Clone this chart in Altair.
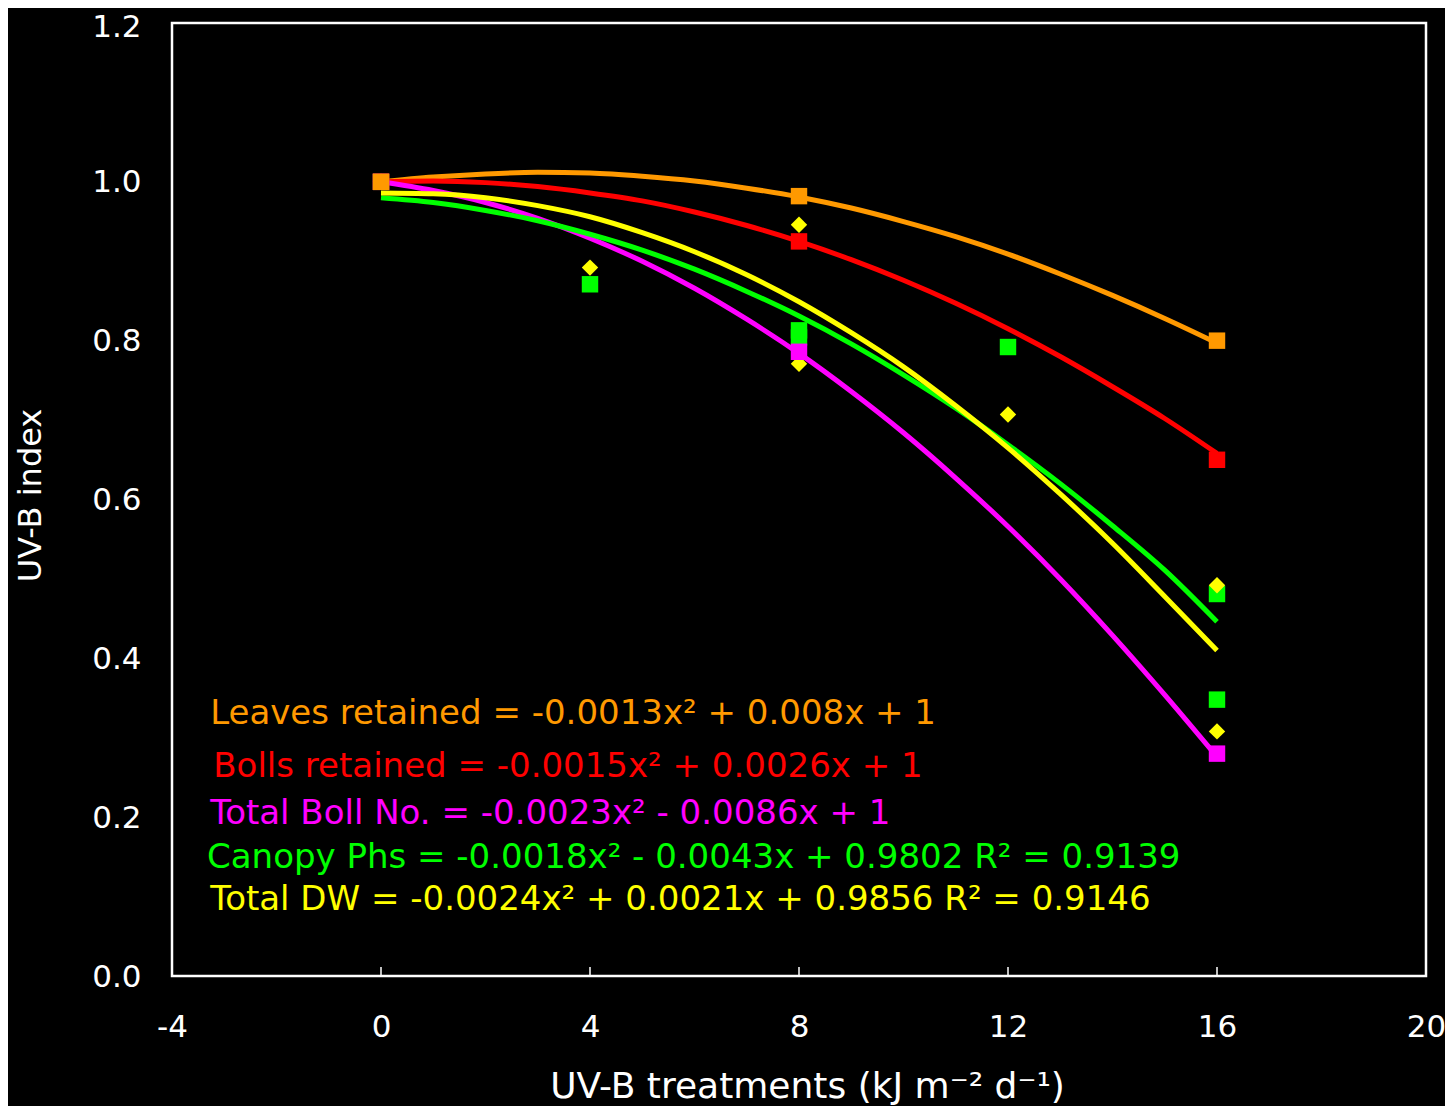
import altair as alt
import pandas as pd

# ---- fitted curves (x = 0..16) ----
fit_x = list(range(17))
leaves_fit = [1.000, 1.006, 1.010, 1.012, 1.011, 1.007, 1.001, 0.992, 0.981, 0.967, 0.950,
              0.931, 0.909, 0.884, 0.857, 0.828, 0.797]
bolls_fit = [1.000, 1.001, 0.999, 0.994, 0.986, 0.976, 0.962, 0.945, 0.925, 0.902, 0.876,
             0.847, 0.815, 0.780, 0.742, 0.702, 0.658]
bollno_fit = [1.000, 0.989, 0.974, 0.954, 0.929, 0.900, 0.866, 0.827, 0.784, 0.736, 0.684,
              0.627, 0.566, 0.500, 0.429, 0.354, 0.276]
canopy_fit = [0.980, 0.974, 0.964, 0.951, 0.934, 0.914, 0.890, 0.862, 0.831, 0.796, 0.757,
              0.715, 0.669, 0.620, 0.567, 0.511, 0.446]
dw_fit = [0.986, 0.985, 0.980, 0.970, 0.956, 0.936, 0.912, 0.883, 0.849, 0.810, 0.767,
          0.718, 0.665, 0.607, 0.545, 0.478, 0.410]

# ---- observed points ----
canopy_x = [0, 4, 8, 8, 12, 16, 16]
canopy_y = [1.000, 0.871, 0.813, 0.804, 0.792, 0.481, 0.348]
dw_x = [0, 4, 8, 8, 12, 16, 16]
dw_y = [1.000, 0.892, 0.946, 0.771, 0.707, 0.492, 0.308]
bollno_x = [0, 8, 16]
bollno_y = [1.000, 0.786, 0.280]
bolls_x = [0, 8, 16]
bolls_y = [1.000, 0.925, 0.650]
leaves_x = [0, 8, 16]
leaves_y = [1.000, 0.982, 0.800]

series = ["Leaves retained", "Bolls retained", "Total Boll No.", "Canopy Phs", "Total DW"]
colors = ["#FF9900", "#FF0000", "#FF00FF", "#00FF00", "#FFFF00"]
shapes = ["square", "square", "square", "square", "diamond"]
sizes = [270, 270, 270, 270, 430]

equations = [
    "Leaves retained = -0.0013x\u00b2 + 0.008x + 1",
    "Bolls retained = -0.0015x\u00b2 + 0.0026x + 1",
    "Total Boll No. = -0.0023x\u00b2 - 0.0086x + 1",
    "Canopy Phs = -0.0018x\u00b2 - 0.0043x + 0.9802 R\u00b2 = 0.9139",
    "Total DW = -0.0024x\u00b2 + 0.0021x + 0.9856 R\u00b2 = 0.9146",
]
eq_x = [-3.27, -3.21, -3.27, -3.33, -3.27]
eq_y = [0.317, 0.251, 0.191, 0.136, 0.083]

x_ticks = [-4, 0, 4, 8, 12, 16, 20]
y_ticks = [0.0, 0.2, 0.4, 0.6, 0.8, 1.0, 1.2]

FONT = "DejaVu Sans"

# ---- tables ----
fits = [leaves_fit, bolls_fit, bollno_fit, canopy_fit, dw_fit]
line_rows = []
for name, ys in zip(series, fits):
    for xv, yv in zip(fit_x, ys):
        line_rows.append({"series": name, "x": xv, "y": yv})
lines_df = pd.DataFrame(line_rows)

pts = [("Canopy Phs", canopy_x, canopy_y), ("Total DW", dw_x, dw_y),
       ("Total Boll No.", bollno_x, bollno_y), ("Bolls retained", bolls_x, bolls_y),
       ("Leaves retained", leaves_x, leaves_y)]
pt_rows = []
for name, xs, ys in pts:
    for xv, yv in zip(xs, ys):
        pt_rows.append({"series": name, "x": xv, "y": yv})
pts_df = pd.DataFrame(pt_rows)
pts_df["ord"] = range(len(pts_df))

eq_df = pd.DataFrame({"series": series, "text": equations, "x": eq_x, "y": eq_y})
tick_df = pd.DataFrame({"t": [t for t in x_ticks if -4 < t < 20]})

xscale = alt.Scale(domain=[-4, 20], nice=False, zero=False)
yscale = alt.Scale(domain=[0, 1.2], nice=False, zero=False)
cscale = alt.Scale(domain=series, range=colors)
sscale = alt.Scale(domain=series, range=shapes)
zscale = alt.Scale(domain=series, range=sizes)

xaxis = alt.Axis(values=x_ticks, labelExpr="'' + datum.value", labelFlush=False,
                 title="UV-B treatments (kJ m\u207b\u00b2 d\u207b\u00b9)",
                 grid=False, ticks=False, tickSize=0, domain=False,
                 labelPadding=36, labelFont=FONT, labelFontSize=31, labelColor="white",
                 titleFont=FONT, titleFontSize=36, titleColor="white", titleFontWeight="normal",
                 titleX=635, titleY=121, titleBaseline="alphabetic", titleAlign="center")
yaxis = alt.Axis(values=y_ticks, format=".1f", title="UV-B index", labelFlush=False,
                 grid=False, ticks=False, tickSize=0, domain=False,
                 labelPadding=31, labelFont=FONT, labelFontSize=31, labelColor="white",
                 labelOffset=alt.condition("datum.value >= 1.19", alt.value(4), alt.value(1)),
                 titleFont=FONT, titleFontSize=32, titleColor="white", titleFontWeight="normal",
                 titleX=-142, titleY=472, titleAngle=-90, titleBaseline="middle", titleAlign="center")

base_lines = alt.Chart(lines_df).mark_line(strokeWidth=5, interpolate="monotone").encode(
    x=alt.X("x:Q", scale=xscale, axis=xaxis),
    y=alt.Y("y:Q", scale=yscale, axis=yaxis),
    color=alt.Color("series:N", scale=cscale, legend=None),
    detail="series:N",
)

points = alt.Chart(pts_df).mark_point(filled=True, opacity=1).encode(
    x=alt.X("x:Q", scale=xscale),
    y=alt.Y("y:Q", scale=yscale),
    color=alt.Color("series:N", scale=cscale, legend=None),
    shape=alt.Shape("series:N", scale=sscale, legend=None),
    size=alt.Size("series:N", scale=zscale, legend=None),
    order=alt.Order("ord:Q"),
)

texts = alt.Chart(eq_df).mark_text(align="left", baseline="alphabetic", font=FONT, fontSize=34).encode(
    x=alt.X("x:Q", scale=xscale),
    y=alt.Y("y:Q", scale=yscale),
    text="text:N",
    color=alt.Color("series:N", scale=cscale, legend=None),
)

ticks = alt.Chart(tick_df).mark_rule(color="white", strokeWidth=1.5).encode(
    x=alt.X("t:Q", scale=xscale),
    y=alt.value(953),
    y2=alt.value(944),
)

chart = alt.layer(ticks, base_lines, points, texts).properties(
    width=1254, height=953,
    padding={"left": 164, "top": 15, "right": 19, "bottom": 130},
    autosize=alt.AutoSizeParams(type="none"),
    background="black",
).configure_view(stroke="white", strokeWidth=2.5)

chart.save("out.html", embed_options={"renderer": "svg", "actions": False})
